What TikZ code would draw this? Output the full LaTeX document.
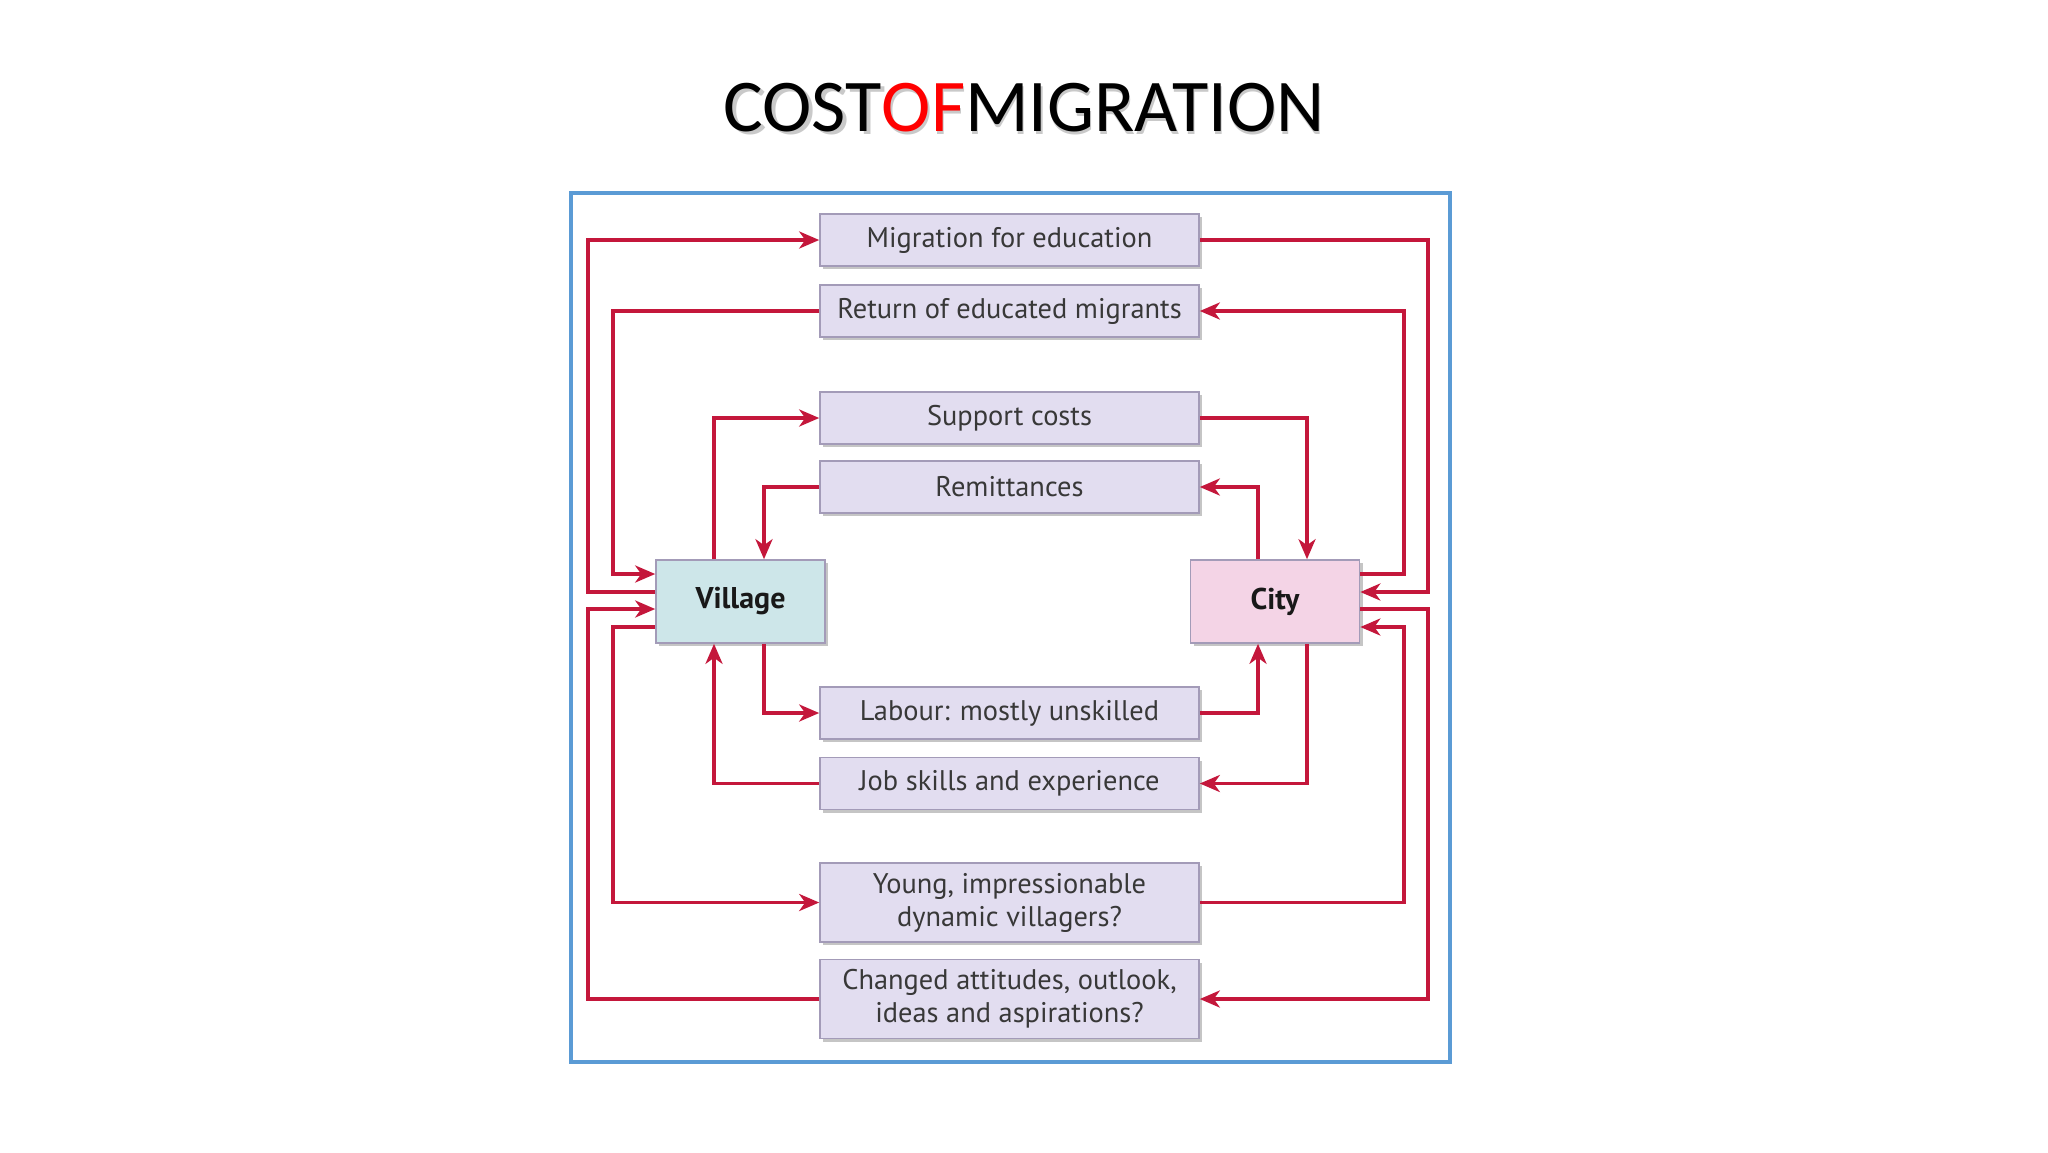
\documentclass[tikz,border=0pt]{standalone}
\usepackage{fontspec}
\setmainfont{PT Sans}
\newfontfamily\titlefont{Carlito}
\usetikzlibrary{arrows.meta,shadows,calc}
\definecolor{boxfill}{HTML}{E2DDF0}
\definecolor{boxline}{HTML}{A39BB8}
\definecolor{vilfill}{HTML}{CDE6E9}
\definecolor{cityfill}{HTML}{F4D4E6}
\definecolor{arrowred}{HTML}{C4173B}
\definecolor{frameblue}{HTML}{5B9BD5}
\definecolor{txtgray}{HTML}{383838}
\tikzset{
  infobox/.style={draw=boxline, line width=0.8pt, fill=boxfill, minimum width=189.5pt, minimum height=26pt,
    inner sep=2pt, align=center, text=txtgray, font=\fontsize{14.2}{16.5}\selectfont,
    drop shadow={shadow xshift=1.5pt, shadow yshift=-1.5pt, fill=black!45, opacity=.5}},
  tallbox/.style={infobox, minimum height=39.5pt},
  placebox/.style={draw=boxline, line width=0.8pt, minimum width=84.5pt, minimum height=41.5pt,
    font=\bfseries\fontsize{15}{17}\selectfont, text=black!90,
    drop shadow={shadow xshift=1.5pt, shadow yshift=-1.5pt, fill=black!45, opacity=.5}},
  conn/.style={draw=arrowred, line width=1.8pt},
  arr/.style={conn, -{Stealth[length=10pt, width=8.5pt, inset=3pt]}}
}
\begin{document}
\begin{tikzpicture}[x=0.5pt, y=-0.5pt]
\useasboundingbox (0,0) rectangle (2048,1152);
\fill[white] (0,0) rectangle (2048,1152);
% title
\node[font=\titlefont\fontsize{37.2}{42}\selectfont, text=black!35, opacity=.6] at (1026.5,110.5) {COSTOFMIGRATION};
\node (title) [font=\titlefont\fontsize{37.2}{42}\selectfont] at (1024,108) {COST\textcolor{red}{OF}MIGRATION};
% frame
\node (frame) [draw=frameblue, line width=1.6pt, minimum width=439.5pt, minimum height=434.5pt] at (1010.5,627.5) {};
% boxes
\node (mig) [infobox] at (1009.5,240) {Migration for education};
\node (ret) [infobox] at (1009.5,311) {Return of educated migrants};
\node (sup) [infobox] at (1009.5,418) {Support costs};
\node (rem) [infobox] at (1009.5,487) {Remittances};
\node (lab) [infobox] at (1009.5,713) {Labour: mostly unskilled};
\node (job) [infobox] at (1009.5,783.5) {Job skills and experience};
\node (yng) [tallbox] at (1009.5,902.5) {Young, impressionable\\dynamic villagers?};
\node (chg) [tallbox] at (1009.5,999) {Changed attitudes, outlook,\\ideas and aspirations?};
\node (vil) [placebox, fill=vilfill] at (740.5,601.5) {Village};
\node (city) [placebox, fill=cityfill] at (1275,601.5) {City};
% outer connectors
\draw[arr] (vil.west |- 0,592) -| (588,240) -- (mig.west);
\draw[arr] (mig.east) -| (1428,592) -- (city.east |- 0,592);
\draw[arr] (city.east |- 0,574) -| (1404,311) -- (ret.east);
\draw[arr] (ret.west) -| (613,574) -- (vil.west |- 0,574);
\draw[arr] (chg.west) -| (588,609) -- (vil.west |- 0,609);
\draw[arr] (vil.west |- 0,627) -| (613,902.5) -- (yng.west);
\draw[arr] (yng.east) -| (1404,627) -- (city.east |- 0,627);
\draw[arr] (city.east |- 0,609) -| (1428,999) -- (chg.east);
% inner connectors
\draw[arr] (vil.north -| 714,0) |- (sup.west);
\draw[arr] (rem.west) -| (vil.north -| 764,0);
\draw[arr] (sup.east) -| (city.north -| 1307,0);
\draw[arr] (city.north -| 1258,0) |- (rem.east);
\draw[arr] (vil.south -| 764,0) |- (lab.west);
\draw[arr] (lab.east) -| (city.south -| 1258,0);
\draw[arr] (city.south -| 1307,0) |- (job.east);
\draw[arr] (job.west) -| (vil.south -| 714,0);
\end{tikzpicture}
\end{document}
